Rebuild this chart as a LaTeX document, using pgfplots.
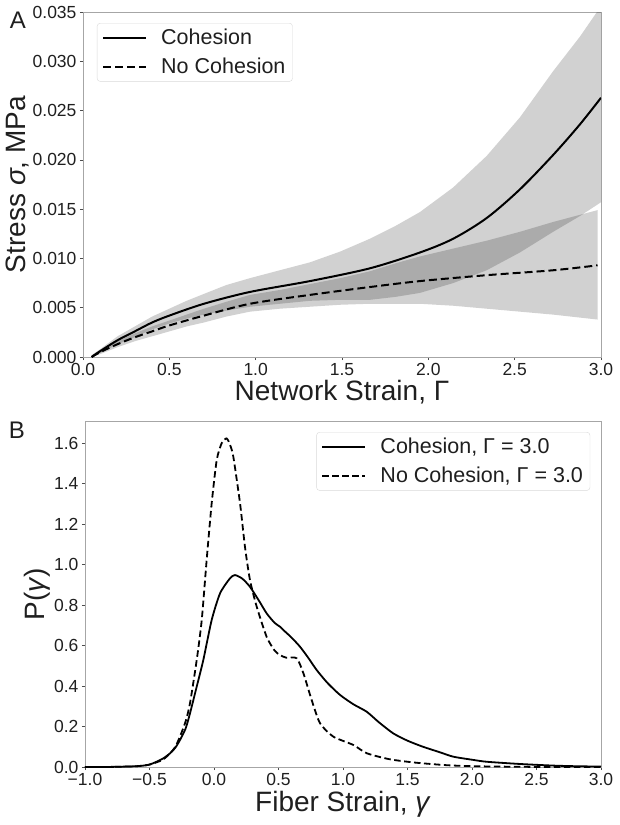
\documentclass[border=0pt]{standalone}
\usepackage{fontspec}
\setmainfont{Liberation Sans}
\usepackage{pgfplots}
\usepackage{pgfplotstable}
\pgfplotsset{compat=1.18}

\pgfplotstableread{
x m
0.05 0.0000
0.10 0.0006
0.20 0.0017
0.30 0.0026
0.40 0.0035
0.50 0.0042
0.70 0.0054
0.967 0.0066
1.314 0.0077
1.662 0.0090
1.951 0.0106
2.144 0.0120
2.338 0.0141
2.53 0.0170
2.723 0.0205
2.878 0.0236
3.00 0.0263
}\coh

% band of cohesion: upper edge forward, lower edge backward
\pgfplotstableread{
x y
0.05 0.0002
0.10 0.0008
0.20 0.0021
0.30 0.0031
0.40 0.0041
0.50 0.0049
0.60 0.0057
0.70 0.0064
0.83 0.0073
0.967 0.0080
1.14 0.0088
1.314 0.0096
1.49 0.0107
1.662 0.0120
1.81 0.0133
1.951 0.0147
2.144 0.0172
2.338 0.0204
2.53 0.0243
2.723 0.0290
2.878 0.0325
3.00 0.0356
3.00 0.0157
2.878 0.0143
2.723 0.0127
2.53 0.0106
2.338 0.0088
2.144 0.0075
1.951 0.0065
1.81 0.0061
1.662 0.0058
1.49 0.0058
1.314 0.0057
1.14 0.0054
0.967 0.0051
0.83 0.0047
0.70 0.0043
0.60 0.0039
0.50 0.0034
0.40 0.0028
0.30 0.0020
0.20 0.0013
0.10 0.0004
0.05 0.0000
}\cohband

\pgfplotstableread{
x m
0.05 0.0000
0.10 0.0005
0.20 0.0013
0.30 0.0020
0.40 0.0026
0.50 0.0032
0.70 0.0042
0.967 0.0054
1.314 0.0063
1.662 0.0071
1.951 0.0077
2.338 0.0083
2.723 0.0088
2.98 0.0093
}\nocoh

\pgfplotstableread{
x y
0.05 0.0001
0.10 0.0007
0.20 0.0016
0.30 0.0024
0.40 0.0031
0.50 0.0037
0.60 0.0043
0.70 0.0049
0.83 0.0056
0.967 0.0063
1.14 0.0068
1.314 0.0074
1.49 0.0080
1.662 0.0087
1.81 0.0095
1.951 0.0102
2.144 0.0110
2.338 0.0118
2.53 0.0127
2.723 0.0137
2.98 0.0149
2.98 0.0038
2.723 0.0043
2.53 0.0046
2.338 0.0049
2.144 0.0052
1.951 0.0054
1.81 0.0054
1.662 0.0054
1.49 0.0053
1.314 0.0051
1.14 0.0049
0.967 0.0046
0.83 0.0041
0.70 0.0035
0.60 0.0031
0.50 0.0026
0.40 0.0021
0.30 0.0016
0.20 0.0010
0.10 0.0003
0.05 0.0000
}\nocohband

\pgfplotstableread{
x y
-1.00 0.0000
-0.80 0.0005
-0.60 0.0040
-0.50 0.0120
-0.40 0.0400
-0.34 0.0680
-0.30 0.0950
-0.264 0.133
-0.22 0.190
-0.186 0.265
-0.134 0.397
-0.083 0.528
-0.018 0.726
0.047 0.858
0.124 0.932
0.163 0.948
0.22 0.930
0.279 0.890
0.35 0.820
0.408 0.759
0.47 0.712
0.512 0.693
0.537 0.677
0.60 0.640
0.667 0.594
0.73 0.540
0.796 0.479
0.88 0.415
0.977 0.356
1.08 0.310
1.184 0.273
1.28 0.220
1.39 0.166
1.50 0.130
1.62 0.100
1.75 0.073
1.855 0.051
2.00 0.036
2.113 0.026
2.37 0.015
2.63 0.007
2.80 0.004
3.00 0.002
}\fibc

\pgfplotstableread{
x y
-1.00 0.0000
-0.80 0.0005
-0.60 0.0040
-0.50 0.0120
-0.40 0.0350
-0.34 0.0680
-0.30 0.1000
-0.264 0.150
-0.22 0.225
-0.186 0.315
-0.134 0.528
-0.095 0.726
-0.057 1.022
-0.018 1.302
0.021 1.516
0.060 1.600
0.098 1.623
0.125 1.590
0.150 1.532
0.202 1.302
0.240 1.088
0.279 0.923
0.331 0.792
0.408 0.643
0.470 0.575
0.512 0.553
0.560 0.540
0.641 0.537
0.693 0.463
0.757 0.331
0.822 0.216
0.925 0.150
1.080 0.109
1.184 0.068
1.364 0.038
1.571 0.021
1.830 0.008
2.100 0.003
2.500 0.0005
3.000 0.0000
}\fibn

\pgfplotsset{
  mystyle/.style={
    scale only axis,
    axis line style={draw=black!35, line width=0.8pt},
    tick style={draw=black!70, line width=0.6pt},
    tick align=outside,
    major tick length=3pt,
    xtick pos=bottom, ytick pos=left,
    tick label style={font=\fontsize{17.5}{20}\selectfont, text=black!88},
    label style={font=\fontsize{28}{32}\selectfont, text=black!88},
    legend cell align=left,
    legend style={font=\fontsize{21.5}{25}\selectfont, draw=black!15, rounded corners=3pt,
      inner xsep=5pt, inner ysep=4pt, row sep=8pt, text=black!88},
    legend image code/.code={\draw[##1] (0pt,0pt) -- (43pt,0pt); \path[draw=none, fill=none] (0pt,0pt) -- (56pt,0pt);},
  }
}

\begin{document}
\begin{tikzpicture}
\useasboundingbox (0pt,0pt) rectangle (619pt,-825pt);
\begin{axis}[mystyle,
  at={(83pt,-12pt)}, anchor=north west,
  width=518pt, height=345pt,
  xmin=0, xmax=3, ymin=0, ymax=0.035,
  xtick={0,0.5,1,1.5,2,2.5,3},
  xticklabels={0.0,0.5,1.0,1.5,2.0,2.5,3.0},
  ytick={0,0.005,0.01,0.015,0.02,0.025,0.03,0.035},
  yticklabels={0.000,0.005,0.010,0.015,0.020,0.025,0.030,0.035},
  scaled y ticks=false,
  xlabel={Network Strain, Γ},
  ylabel={Stress \textit{σ}, MPa},
  xlabel style={at={(axis description cs:0.5,0)}, anchor=center, yshift=-35pt},
  ylabel style={at={(axis description cs:-0.126,0.5)}, anchor=center},
  legend style={at={(0.027,0.968)}, anchor=north west},
]
\addplot[fill=black, fill opacity=0.18, draw=none, forget plot] table[x=x,y=y]{\cohband} -- cycle;
\addplot[fill=black, fill opacity=0.18, draw=none, forget plot] table[x=x,y=y]{\nocohband} -- cycle;
\addplot[black, line width=2pt, smooth, tension=0.5] table[x=x,y=m]{\coh};
\addlegendentry{Cohesion}
\addplot[black, line width=2pt, dash pattern=on 8pt off 4pt, smooth, tension=0.5] table[x=x,y=m]{\nocoh};
\addlegendentry{No Cohesion}
\end{axis}
\node[font=\fontsize{24}{28}\selectfont, text=black!88] at (18pt,-20pt) {A};

\begin{axis}[mystyle,
  at={(85pt,-421pt)}, anchor=north west,
  width=516pt, height=346pt,
  xmin=-1, xmax=3, ymin=0, ymax=1.709,
  xtick={-1,-0.5,0,0.5,1,1.5,2,2.5,3},
  xticklabels={−1.0,−0.5,0.0,0.5,1.0,1.5,2.0,2.5,3.0},
  ytick={0,0.2,0.4,0.6,0.8,1.0,1.2,1.4,1.6},
  yticklabels={0.0,0.2,0.4,0.6,0.8,1.0,1.2,1.4,1.6},
  xlabel={Fiber Strain, \textit{γ}},
  ylabel={P(\textit{γ})},
  xlabel style={at={(axis description cs:0.5,0)}, anchor=center, yshift=-37pt},
  ylabel style={at={(axis description cs:-0.093,0.5)}, anchor=center},
  legend style={at={(0.979,0.968)}, anchor=north east},
]
\addplot[black, line width=1.8pt, smooth, tension=0.4] table[x=x,y=y]{\fibc};
\addlegendentry{Cohesion, Γ = 3.0}
\addplot[black, line width=1.8pt, dash pattern=on 6.5pt off 3.5pt, smooth, tension=0.4] table[x=x,y=y]{\fibn};
\addlegendentry{No Cohesion, Γ = 3.0}
\end{axis}
\node[font=\fontsize{24}{28}\selectfont, text=black!88] at (17pt,-430pt) {B};
\end{tikzpicture}
\end{document}
